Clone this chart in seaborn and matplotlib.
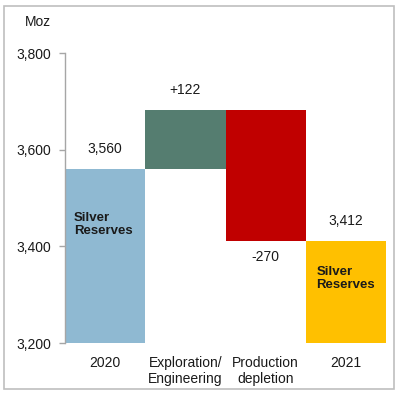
import matplotlib
matplotlib.use("Agg")
import matplotlib.pyplot as plt
import seaborn as sns
import pandas as pd
from matplotlib.patches import Rectangle

categories = ["2020", "Exploration/\nEngineering", "Production\ndepletion", "2021"]
changes = [3560, 122, -270, 3412]
value_labels = ["3,560", "+122", "-270", "3,412"]
colors = ["#8FB9D2", "#557D70", "#C00000", "#FFC000"]
yticks = [3200, 3400, 3600, 3800]
ytick_labels = ["3,200", "3,400", "3,600", "3,800"]
axis_floor = 3200

# waterfall geometry
starts = []
ends = []
running = 0
for i, c in enumerate(changes):
    if i == 0 or i == len(changes) - 1:
        s, e = axis_floor, c
    else:
        s, e = running, running + c
    starts.append(s)
    ends.append(e)
    running = e
heights = [e - s for s, e in zip(starts, ends)]

df = pd.DataFrame({"cat": categories, "height": heights})

sns.set_theme(style="white")
plt.rcParams["font.family"] = ["Liberation Sans", "DejaVu Sans"]

fig = plt.figure(figsize=(4.0, 3.96), dpi=100)
ax = fig.add_axes([0.1625, 0.1338, 0.8025, 0.7322])

sns.barplot(data=df, x="cat", y="height", bottom=starts, width=1.0,
            color="gray", ax=ax, errorbar=None, linewidth=0)
for p, c in zip(ax.patches, colors):
    p.set_facecolor(c)
    p.set_edgecolor("none")

ax.set_ylim(3200, 3800)
ax.set_xlim(-0.5, 3.5)
ax.set_yticks(yticks)
ax.set_yticklabels(ytick_labels)
ax.set_xlabel("")
ax.set_ylabel("")
for s in ["top", "right", "bottom"]:
    ax.spines[s].set_visible(False)
ax.spines["left"].set_color("#A6A6A6")
ax.spines["left"].set_linewidth(1.0)
ax.tick_params(axis="y", length=4, width=1, color="#A6A6A6", pad=6,
               labelsize=10, labelcolor="#1a1a1a", left=True)
ax.tick_params(axis="x", length=0, pad=9, labelsize=10, labelcolor="#1a1a1a")

# value labels
for i, (s, e, lab) in enumerate(zip(starts, ends, value_labels)):
    top = max(s, e)
    if changes[i] < 0 and 0 < i < len(changes) - 1:
        ax.text(i, min(s, e) - 19, lab, ha="center", va="top", fontsize=10, color="#1a1a1a")
    else:
        ax.text(i, top + 27, lab, ha="center", va="bottom", fontsize=10, color="#1a1a1a")

ax.text(-0.39, 3446, "Silver\nReserves", ha="left", va="center", fontsize=9.5,
        fontweight="bold", color="#1a1a1a", linespacing=1.1)
ax.text(2.63, 3334, "Silver\nReserves", ha="left", va="center", fontsize=9.5,
        fontweight="bold", color="#1a1a1a", linespacing=1.1)

fig.text(38 / 400, 1 - 22 / 396, "Moz", ha="center", va="center", fontsize=10, color="#1a1a1a")

fig.patches.append(Rectangle((4 / 400, 1 - 389 / 396), 390 / 400, 383 / 396,
                             transform=fig.transFigure, fill=False,
                             edgecolor="#BFBFBF", linewidth=1.2))

fig.savefig("out.png", dpi=100)
